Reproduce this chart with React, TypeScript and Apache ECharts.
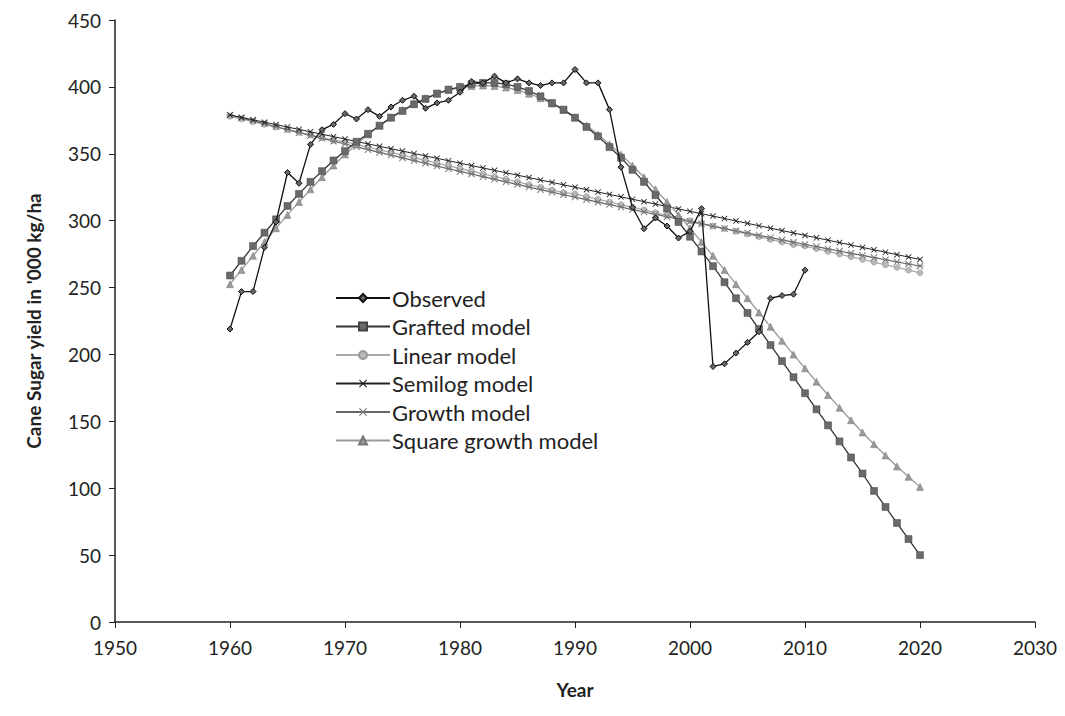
import React, { useEffect, useRef } from "react";
import * as echarts from "echarts";

const years: number[] = [];
for (let y = 1960; y <= 2020; y++) years.push(y);
const obsYears: number[] = [];
for (let y = 1960; y <= 2010; y++) obsYears.push(y);

const observed = [
  219, 247, 247, 280, 299, 336, 328, 357, 368, 372,
  380, 376, 383, 378, 385, 390, 393, 384, 388, 390,
  396, 404, 403, 408, 403, 406, 403, 401, 403, 403,
  413, 403, 403, 383, 340, 310, 294, 302, 296, 287,
  292, 309, 191, 193, 201, 209, 217, 242, 244, 245,
  263,
];

const grafted = [
  259, 270, 281, 291, 301, 311, 320, 329, 337, 345,
  352, 359, 365, 371, 377, 382, 387, 391, 395, 398,
  400, 402, 403, 403, 402, 400, 397, 393, 388, 383,
  377, 370, 363, 355, 347, 338, 329, 319, 309, 299,
  288, 277, 266, 254, 242, 231, 219, 207, 195, 183,
  171, 159, 147, 135, 123, 111, 98, 86, 74, 62,
  50,
];

const linear = [
  378, 376, 374, 372, 370, 368, 366, 364, 362, 360,
  359, 357, 355, 353, 351, 349, 347, 345, 343, 341,
  339, 337, 335, 333, 331, 329, 327, 325, 323, 321,
  320, 318, 316, 314, 312, 310, 308, 306, 304, 302,
  300, 298, 296, 294, 292, 290, 288, 286, 284, 282,
  281, 279, 277, 275, 273, 271, 269, 267, 265, 263,
  261,
];

const semilog = [
  379, 377.2, 375.4, 373.6, 371.8, 370, 368.2, 366.4, 364.6, 362.8,
  361, 359.2, 357.4, 355.6, 353.8, 352, 350.2, 348.4, 346.6, 344.8,
  343, 341.2, 339.4, 337.6, 335.8, 334, 332.2, 330.4, 328.6, 326.8,
  325, 323.2, 321.4, 319.6, 317.8, 316, 314.2, 312.4, 310.6, 308.8,
  307, 305.2, 303.4, 301.6, 299.8, 298, 296.2, 294.4, 292.6, 290.8,
  289, 287.2, 285.4, 283.6, 281.8, 280, 278.2, 276.4, 274.6, 272.8,
  271,
];

const growth = [
  379, 376.8, 374.6, 372.4, 370.2, 368.0, 365.8, 363.7, 361.5, 359.4,
  357.3, 355.2, 353.1, 351.0, 349.0, 346.9, 344.9, 342.9, 340.8, 338.8,
  336.8, 334.9, 332.9, 330.9, 329.0, 327.1, 325.1, 323.2, 321.3, 319.4,
  317.6, 315.7, 313.8, 312.0, 310.2, 308.3, 306.5, 304.7, 302.9, 301.1,
  299.4, 297.6, 295.9, 294.1, 292.4, 290.7, 289.0, 287.3, 285.6, 283.9,
  282.2, 280.6, 278.9, 277.3, 275.6, 274.0, 272.4, 270.8, 269.2, 267.6,
  266.1,
];

const squareGrowth = [
  252.5, 263.2, 273.7, 284.1, 294.3, 304.3, 314.0, 323.4, 332.5, 341.2,
  349.5, 357.2, 364.5, 371.1, 377.2, 382.7, 387.5, 391.5, 394.9, 397.6,
  399.5, 400.6, 401.0, 400.6, 399.5, 397.6, 394.9, 391.5, 387.5, 382.7,
  377.2, 371.1, 364.5, 357.2, 349.5, 341.2, 332.5, 323.4, 314.0, 304.3,
  294.3, 284.1, 273.7, 263.2, 252.5, 242.0, 231.3, 220.7, 210.2, 199.9,
  189.6, 179.6, 169.7, 160.2, 150.8, 141.7, 132.9, 124.5, 116.3, 108.5,
  101.0,
];

const xTicks = [1950, 1960, 1970, 1980, 1990, 2000, 2010, 2020, 2030];

const pair = (xs: number[], vs: number[]) => xs.map((x, i) => [x, vs[i]]);

const X_SYM = "path://M0,1L1,0L5,4L9,0L10,1L6,5L10,9L9,10L5,6L1,10L0,9L4,5Z";
const STAR_SYM =
  "path://M0,1L1,0L5,4L9,0L10,1L6,5L10,9L9,10L5,6L1,10L0,9L4,5Z M0,4.3L10,4.3L10,5.7L0,5.7Z";

export default function App() {
  const ref = useRef<HTMLDivElement>(null);
  useEffect(() => {
    if (!ref.current) return;
    const chart = echarts.init(ref.current, undefined, { renderer: "svg" });
    const font = "Lato, 'Open Sans', sans-serif";
    chart.setOption({
      animation: false,
      backgroundColor: "#ffffff",
      textStyle: { fontFamily: font },
      grid: { left: 107, right: 22, top: 12, bottom: 86, outerBoundsMode: "none", containLabel: false },
      legend: {
        orient: "vertical",
        left: 322,
        top: 274,
        itemWidth: 54,
        itemHeight: 10,
        itemGap: 6.5,
        textStyle: {
          fontFamily: font,
          fontSize: 22,
          lineHeight: 22,
          color: "#222",
          padding: [0, 0, 0, -3],
        },
        data: [
          "Observed",
          "Grafted model",
          "Linear model",
          "Semilog model",
          "Growth model",
          "Square growth model",
        ],
      },
      xAxis: {
        type: "value",
        min: 1950,
        max: 2030,
        interval: 10,
        name: "Year",
        nameLocation: "middle",
        nameGap: 58,
        nameTextStyle: { fontFamily: font, fontSize: 19, fontWeight: "bold", color: "#222" },
        axisLine: { show: true, lineStyle: { color: "#222", width: 1.5 } },
        axisTick: { show: true, length: 6, lineStyle: { color: "#222" } },
        splitLine: { show: false },
        axisLabel: {
          fontFamily: font,
          fontSize: 19,
          color: "#222",
          margin: 16,
          formatter: (v: number) => (xTicks.includes(v) ? String(v) : ""),
        },
      },
      yAxis: {
        type: "value",
        min: 0,
        max: 450,
        interval: 50,
        name: "Cane Sugar yield in '000 kg/ha",
        nameLocation: "middle",
        nameRotate: 90,
        nameGap: 72,
        nameTextStyle: { fontFamily: font, fontSize: 19, fontWeight: "bold", color: "#222" },
        axisLine: { show: true, lineStyle: { color: "#222", width: 1.5 } },
        axisTick: { show: true, length: 6, lineStyle: { color: "#222" } },
        splitLine: { show: false },
        axisLabel: { fontFamily: font, fontSize: 19, color: "#222", margin: 14 },
      },
      series: [
        {
          name: "Observed",
          type: "line",
          data: pair(obsYears, observed),
          symbol: "diamond",
          symbolSize: 6,
          z: 10,
          lineStyle: { color: "#111", width: 1.3 },
          itemStyle: { color: "#666", borderColor: "#111", borderWidth: 1 },
        },
        {
          name: "Grafted model",
          type: "line",
          data: pair(years, grafted),
          symbol: "rect",
          symbolSize: 7,
          z: 5,
          lineStyle: { color: "#333", width: 1.3 },
          itemStyle: { color: "#6a6a6a", borderColor: "#444", borderWidth: 0.5 },
        },
        {
          name: "Linear model",
          type: "line",
          data: pair(years, linear),
          symbol: "circle",
          symbolSize: 6,
          z: 3,
          lineStyle: { color: "#aaa", width: 1.3 },
          itemStyle: { color: "#b8b8b8", borderColor: "#999", borderWidth: 0.5 },
        },
        {
          name: "Semilog model",
          type: "line",
          data: pair(years, semilog),
          symbol: X_SYM,
          symbolSize: 6,
          z: 4,
          lineStyle: { color: "#222", width: 1 },
          itemStyle: { color: "#222" },
        },
        {
          name: "Growth model",
          type: "line",
          data: pair(years, growth),
          symbol: STAR_SYM,
          symbolSize: 7,
          z: 3,
          lineStyle: { color: "#666", width: 1.2 },
          itemStyle: { color: "#777" },
        },
        {
          name: "Square growth model",
          type: "line",
          data: pair(years, squareGrowth),
          symbol: "triangle",
          symbolSize: 7,
          z: 4,
          lineStyle: { color: "#999", width: 1.3 },
          itemStyle: { color: "#9a9a9a", borderColor: "#777", borderWidth: 0.5 },
        },
      ],
    });
    return () => chart.dispose();
  }, []);
  return <div ref={ref} style={{ width: 1049, height: 700 }} />;
}
